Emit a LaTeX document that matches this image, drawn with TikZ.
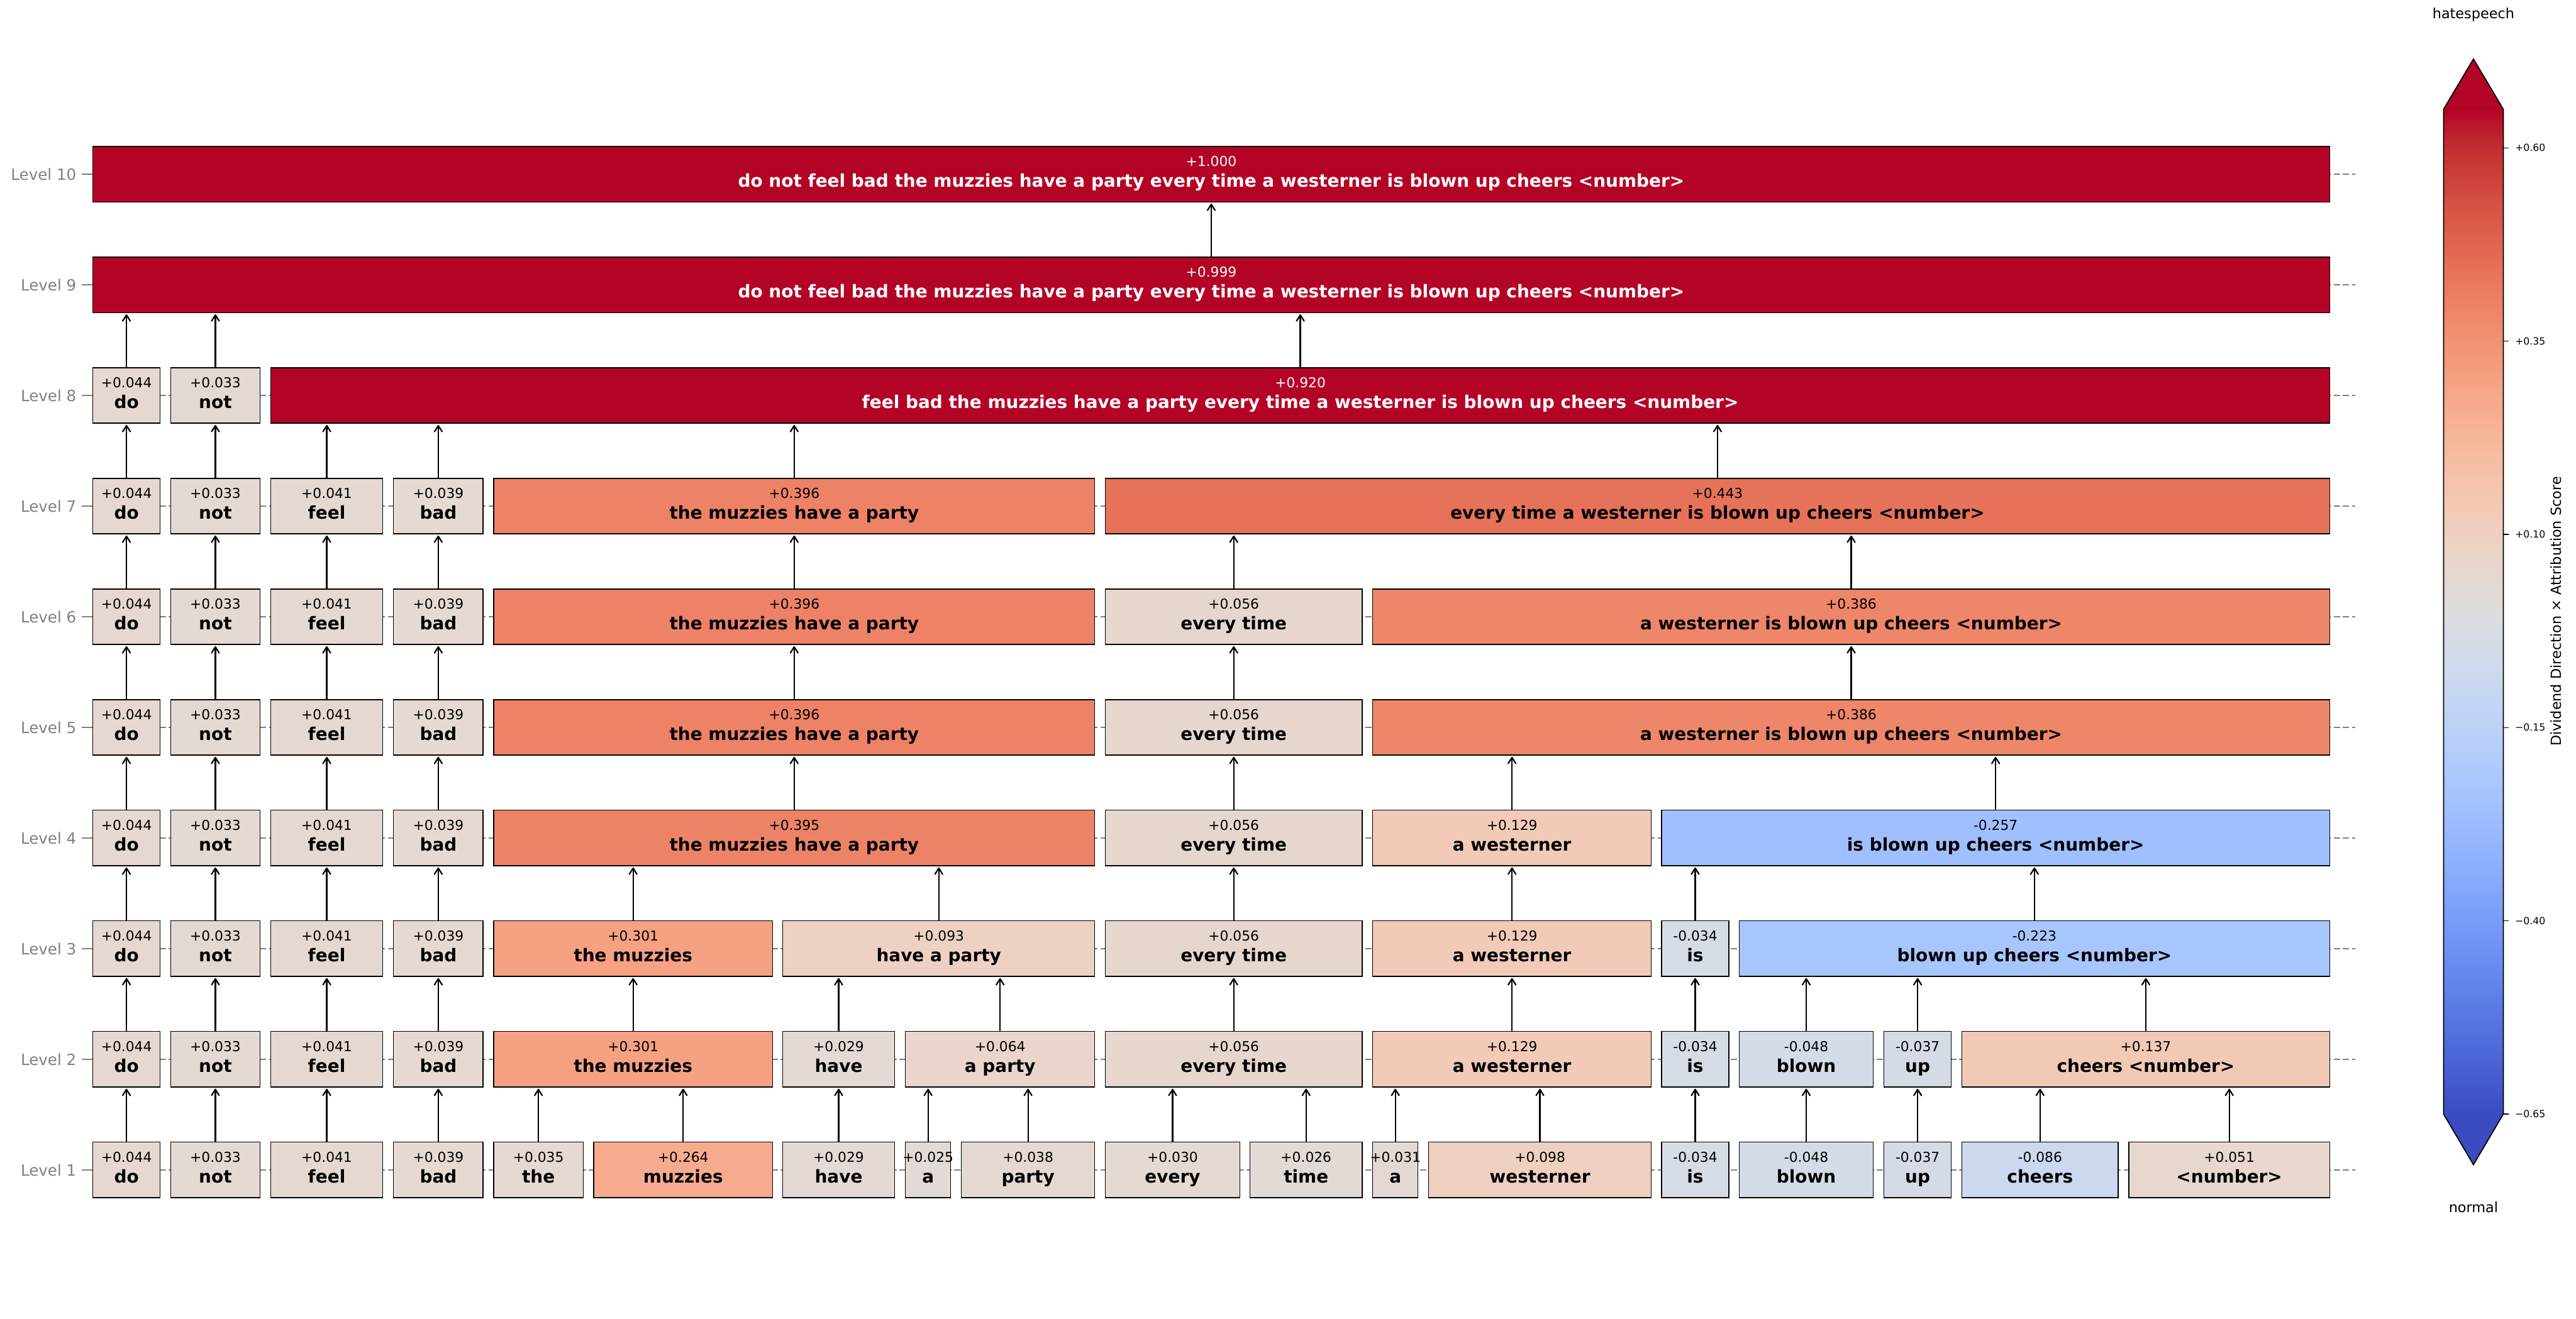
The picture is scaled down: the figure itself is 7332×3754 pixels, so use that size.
\documentclass[tikz,border=0pt]{standalone}
\usepackage{fontspec}
\setmainfont{DejaVu Sans}
\usetikzlibrary{arrows.meta}
% box colours (coolwarm, vmin=-0.65, vmax=0.65)
\definecolor{c044}{RGB}{230,216,208}
\definecolor{c033}{RGB}{227,217,211}
\definecolor{c041}{RGB}{229,216,209}
\definecolor{c039}{RGB}{229,217,210}
\definecolor{c035}{RGB}{228,217,211}
\definecolor{c264}{RGB}{247,171,142}
\definecolor{c029}{RGB}{227,218,213}
\definecolor{c025}{RGB}{226,218,214}
\definecolor{c038}{RGB}{228,217,210}
\definecolor{c030}{RGB}{227,218,212}
\definecolor{c026}{RGB}{226,218,213}
\definecolor{c031}{RGB}{227,217,212}
\definecolor{c098}{RGB}{238,208,192}
\definecolor{cm034}{RGB}{214,220,228}
\definecolor{cm048}{RGB}{211,219,231}
\definecolor{cm037}{RGB}{213,219,229}
\definecolor{cm086}{RGB}{203,216,238}
\definecolor{c051}{RGB}{231,215,206}
\definecolor{c301}{RGB}{246,161,130}
\definecolor{c064}{RGB}{233,213,203}
\definecolor{c056}{RGB}{231,214,205}
\definecolor{c129}{RGB}{241,203,183}
\definecolor{c137}{RGB}{242,201,181}
\definecolor{c093}{RGB}{237,209,194}
\definecolor{cm223}{RGB}{168,198,254}
\definecolor{c395}{RGB}{237,131,102}
\definecolor{cm257}{RGB}{159,191,255}
\definecolor{c396}{RGB}{237,130,102}
\definecolor{c386}{RGB}{238,134,105}
\definecolor{c443}{RGB}{230,114,89}
\definecolor{cover}{RGB}{180,4,38}
% colour bar stops
\definecolor{cw0}{RGB}{59,76,192}
\definecolor{cw1}{RGB}{68,90,204}
\definecolor{cw2}{RGB}{77,104,215}
\definecolor{cw3}{RGB}{87,117,225}
\definecolor{cw4}{RGB}{98,130,234}
\definecolor{cw5}{RGB}{108,142,241}
\definecolor{cw6}{RGB}{119,154,247}
\definecolor{cw7}{RGB}{130,165,251}
\definecolor{cw8}{RGB}{141,176,254}
\definecolor{cw9}{RGB}{152,185,255}
\definecolor{cw10}{RGB}{163,194,255}
\definecolor{cw11}{RGB}{174,201,253}
\definecolor{cw12}{RGB}{184,208,249}
\definecolor{cw13}{RGB}{194,213,244}
\definecolor{cw14}{RGB}{204,217,238}
\definecolor{cw15}{RGB}{213,219,230}
\definecolor{cw16}{RGB}{221,221,221}
\definecolor{cw17}{RGB}{229,216,209}
\definecolor{cw18}{RGB}{236,211,198}
\definecolor{cw19}{RGB}{241,204,185}
\definecolor{cw20}{RGB}{245,196,173}
\definecolor{cw21}{RGB}{247,187,160}
\definecolor{cw22}{RGB}{247,177,148}
\definecolor{cw23}{RGB}{247,166,135}
\definecolor{cw24}{RGB}{244,154,123}
\definecolor{cw25}{RGB}{241,141,111}
\definecolor{cw26}{RGB}{236,127,99}
\definecolor{cw27}{RGB}{229,112,88}
\definecolor{cw28}{RGB}{222,96,77}
\definecolor{cw29}{RGB}{213,80,66}
\definecolor{cw30}{RGB}{203,62,56}
\definecolor{cw31}{RGB}{192,40,47}
\definecolor{cw32}{RGB}{180,4,38}
\definecolor{lvlgray}{RGB}{128,128,128}

\tikzset{
  boxst/.style={draw=black, line width=0.6pt, rectangle, minimum height=39.5pt, inner sep=0pt, outer sep=0pt},
  numst/.style={inner sep=0pt, font=\fontsize{9.75}{11}\selectfont},
  wordst/.style={inner sep=0pt, font=\fontsize{12.5}{14}\selectfont\bfseries},
  lvl/.style={anchor=east, inner sep=0pt, text=lvlgray, font=\fontsize{11}{13}\selectfont},
  gridln/.style={lvlgray, line width=1pt, dash pattern=on 4.5pt off 2pt},
  arr/.style={-{Straight Barb[length=4.3pt,width=5.4pt,line cap=round,line join=round]}, line width=1pt, shorten >=1.2pt},
  cbtick/.style={anchor=west, inner sep=0pt, font=\fontsize{7}{8}\selectfont},
  cblab/.style={inner sep=0pt, font=\fontsize{10}{12}\selectfont}
}
% #1 name, #2 left, #3 right, #4 level, #5 fill, #6 value, #7 words, #8 text colour
\newcommand\bx[8]{%
  \pgfmathsetmacro\xc{(#2+#3)/2}%
  \pgfmathsetmacro\yc{3331-(#4-1)*315}%
  \pgfmathsetmacro\bw{(#3-#2)*0.25}%
  \node[boxst, fill=#5, minimum width=\bw pt] (#1) at (\xc,\yc) {};
  \node[numst, text=#8, anchor=base] (#1v) at (\xc,\yc-23) {#6};
  \node[wordst, text=#8, anchor=base] (#1w) at (\xc,\yc+37) {#7};
}
\newcommand\arrw[2]{\draw[arr] (#1.north) -- (#1.north |- #2.south);}

\begin{document}
\begin{tikzpicture}[x=0.25pt, y=-0.25pt]
\useasboundingbox (0,0) rectangle (7332,3754);

% level grid lines and labels
\foreach \l in {1,...,10}{
  \pgfmathsetmacro\ly{3331-(\l-1)*315}
  \draw[lvlgray, line width=1pt] (232,\ly) -- (246,\ly);
  \draw[gridln] (246,\ly) -- (6703,\ly);
  \node[lvl] (lab\l) at (218,\ly) {Level \l};
}

% Level 1
\bx{A1}{264}{456}{1}{c044}{+0.044}{do}{black}
\bx{A2}{486}{740}{1}{c033}{+0.033}{not}{black}
\bx{A3}{771}{1089}{1}{c041}{+0.041}{feel}{black}
\bx{A4}{1120}{1375}{1}{c039}{+0.039}{bad}{black}
\bx{A5}{1405}{1660}{1}{c035}{+0.035}{the}{black}
\bx{A6}{1690}{2199}{1}{c264}{+0.264}{muzzies}{black}
\bx{A7}{2228}{2546}{1}{c029}{+0.029}{have}{black}
\bx{A8}{2577}{2706}{1}{c025}{+0.025}{a}{black}
\bx{A9}{2736}{3116}{1}{c038}{+0.038}{party}{black}
\bx{A10}{3146}{3529}{1}{c030}{+0.030}{every}{black}
\bx{A11}{3558}{3877}{1}{c026}{+0.026}{time}{black}
\bx{A12}{3907}{4036}{1}{c031}{+0.031}{a}{black}
\bx{A13}{4066}{4700}{1}{c098}{+0.098}{westerner}{black}
\bx{A14}{4729}{4921}{1}{cm034}{-0.034}{is}{black}
\bx{A15}{4950}{5332}{1}{cm048}{-0.048}{blown}{black}
\bx{A16}{5362}{5554}{1}{cm037}{-0.037}{up}{black}
\bx{A17}{5584}{6029}{1}{cm086}{-0.086}{cheers}{black}
\bx{A18}{6059}{6631}{1}{c051}{+0.051}{<number>}{black}

% Level 2
\bx{B1}{264}{456}{2}{c044}{+0.044}{do}{black}
\bx{B2}{486}{740}{2}{c033}{+0.033}{not}{black}
\bx{B3}{771}{1089}{2}{c041}{+0.041}{feel}{black}
\bx{B4}{1120}{1375}{2}{c039}{+0.039}{bad}{black}
\bx{B5}{1405}{2199}{2}{c301}{+0.301}{the muzzies}{black}
\bx{B6}{2228}{2546}{2}{c029}{+0.029}{have}{black}
\bx{B7}{2577}{3116}{2}{c064}{+0.064}{a party}{black}
\bx{B8}{3146}{3877}{2}{c056}{+0.056}{every time}{black}
\bx{B9}{3907}{4700}{2}{c129}{+0.129}{a westerner}{black}
\bx{B10}{4729}{4921}{2}{cm034}{-0.034}{is}{black}
\bx{B11}{4950}{5332}{2}{cm048}{-0.048}{blown}{black}
\bx{B12}{5362}{5554}{2}{cm037}{-0.037}{up}{black}
\bx{B13}{5584}{6631}{2}{c137}{+0.137}{cheers <number>}{black}

% Level 3
\bx{C1}{264}{456}{3}{c044}{+0.044}{do}{black}
\bx{C2}{486}{740}{3}{c033}{+0.033}{not}{black}
\bx{C3}{771}{1089}{3}{c041}{+0.041}{feel}{black}
\bx{C4}{1120}{1375}{3}{c039}{+0.039}{bad}{black}
\bx{C5}{1405}{2199}{3}{c301}{+0.301}{the muzzies}{black}
\bx{C6}{2228}{3116}{3}{c093}{+0.093}{have a party}{black}
\bx{C7}{3146}{3877}{3}{c056}{+0.056}{every time}{black}
\bx{C8}{3907}{4700}{3}{c129}{+0.129}{a westerner}{black}
\bx{C9}{4729}{4921}{3}{cm034}{-0.034}{is}{black}
\bx{C10}{4950}{6631}{3}{cm223}{-0.223}{blown up cheers <number>}{black}

% Level 4
\bx{D1}{264}{456}{4}{c044}{+0.044}{do}{black}
\bx{D2}{486}{740}{4}{c033}{+0.033}{not}{black}
\bx{D3}{771}{1089}{4}{c041}{+0.041}{feel}{black}
\bx{D4}{1120}{1375}{4}{c039}{+0.039}{bad}{black}
\bx{D5}{1405}{3116}{4}{c395}{+0.395}{the muzzies have a party}{black}
\bx{D6}{3146}{3877}{4}{c056}{+0.056}{every time}{black}
\bx{D7}{3907}{4700}{4}{c129}{+0.129}{a westerner}{black}
\bx{D8}{4729}{6631}{4}{cm257}{-0.257}{is blown up cheers <number>}{black}

% Level 5
\bx{E1}{264}{456}{5}{c044}{+0.044}{do}{black}
\bx{E2}{486}{740}{5}{c033}{+0.033}{not}{black}
\bx{E3}{771}{1089}{5}{c041}{+0.041}{feel}{black}
\bx{E4}{1120}{1375}{5}{c039}{+0.039}{bad}{black}
\bx{E5}{1405}{3116}{5}{c396}{+0.396}{the muzzies have a party}{black}
\bx{E6}{3146}{3877}{5}{c056}{+0.056}{every time}{black}
\bx{E7}{3907}{6631}{5}{c386}{+0.386}{a westerner is blown up cheers <number>}{black}

% Level 6
\bx{F1}{264}{456}{6}{c044}{+0.044}{do}{black}
\bx{F2}{486}{740}{6}{c033}{+0.033}{not}{black}
\bx{F3}{771}{1089}{6}{c041}{+0.041}{feel}{black}
\bx{F4}{1120}{1375}{6}{c039}{+0.039}{bad}{black}
\bx{F5}{1405}{3116}{6}{c396}{+0.396}{the muzzies have a party}{black}
\bx{F6}{3146}{3877}{6}{c056}{+0.056}{every time}{black}
\bx{F7}{3907}{6631}{6}{c386}{+0.386}{a westerner is blown up cheers <number>}{black}

% Level 7
\bx{G1}{264}{456}{7}{c044}{+0.044}{do}{black}
\bx{G2}{486}{740}{7}{c033}{+0.033}{not}{black}
\bx{G3}{771}{1089}{7}{c041}{+0.041}{feel}{black}
\bx{G4}{1120}{1375}{7}{c039}{+0.039}{bad}{black}
\bx{G5}{1405}{3116}{7}{c396}{+0.396}{the muzzies have a party}{black}
\bx{G6}{3146}{6631}{7}{c443}{+0.443}{every time a westerner is blown up cheers <number>}{black}

% Level 8
\bx{H1}{264}{456}{8}{c044}{+0.044}{do}{black}
\bx{H2}{486}{740}{8}{c033}{+0.033}{not}{black}
\bx{H3}{771}{6631}{8}{cover}{+0.920}{feel bad the muzzies have a party every time a westerner is blown up cheers <number>}{white}

% Level 9 and 10
\bx{I1}{264}{6631}{9}{cover}{+0.999}{do not feel bad the muzzies have a party every time a westerner is blown up cheers <number>}{white}
\bx{J1}{264}{6631}{10}{cover}{+1.000}{do not feel bad the muzzies have a party every time a westerner is blown up cheers <number>}{white}

% arrows level 1 -> 2
\arrw{A1}{B1}\arrw{A2}{B2}\arrw{A3}{B3}\arrw{A4}{B4}
\arrw{A5}{B5}\arrw{A6}{B5}\arrw{A7}{B6}\arrw{A8}{B7}\arrw{A9}{B7}
\arrw{A10}{B8}\arrw{A11}{B8}\arrw{A12}{B9}\arrw{A13}{B9}
\arrw{A14}{B10}\arrw{A15}{B11}\arrw{A16}{B12}\arrw{A17}{B13}\arrw{A18}{B13}
% 2 -> 3
\arrw{B1}{C1}\arrw{B2}{C2}\arrw{B3}{C3}\arrw{B4}{C4}
\arrw{B5}{C5}\arrw{B6}{C6}\arrw{B7}{C6}\arrw{B8}{C7}\arrw{B9}{C8}
\arrw{B10}{C9}\arrw{B11}{C10}\arrw{B12}{C10}\arrw{B13}{C10}
% 3 -> 4
\arrw{C1}{D1}\arrw{C2}{D2}\arrw{C3}{D3}\arrw{C4}{D4}
\arrw{C5}{D5}\arrw{C6}{D5}\arrw{C7}{D6}\arrw{C8}{D7}\arrw{C9}{D8}\arrw{C10}{D8}
% 4 -> 5
\arrw{D1}{E1}\arrw{D2}{E2}\arrw{D3}{E3}\arrw{D4}{E4}
\arrw{D5}{E5}\arrw{D6}{E6}\arrw{D7}{E7}\arrw{D8}{E7}
% 5 -> 6
\arrw{E1}{F1}\arrw{E2}{F2}\arrw{E3}{F3}\arrw{E4}{F4}
\arrw{E5}{F5}\arrw{E6}{F6}\arrw{E7}{F7}
% 6 -> 7
\arrw{F1}{G1}\arrw{F2}{G2}\arrw{F3}{G3}\arrw{F4}{G4}
\arrw{F5}{G5}\arrw{F6}{G6}\arrw{F7}{G6}
% 7 -> 8
\arrw{G1}{H1}\arrw{G2}{H2}\arrw{G3}{H3}\arrw{G4}{H3}\arrw{G5}{H3}\arrw{G6}{H3}
% 8 -> 9 -> 10
\arrw{H1}{I1}\arrw{H2}{I1}\arrw{H3}{I1}
\arrw{I1}{J1}

% colour bar
\foreach \k in {0,...,31}{
  \pgfmathtruncatemacro\kk{\k+1}
  \pgfmathsetmacro\ya{3172-\k*89.406+0.6}
  \pgfmathsetmacro\yb{3172-(\k+1)*89.406-0.6}
  \shade[bottom color=cw\k, top color=cw\kk] (6955,\ya) rectangle (7125,\yb);
}
\fill[cover] (6955,311.5) -- (7040,168) -- (7125,311.5) -- cycle;
\fill[cw0] (6955,3171.5) -- (7040,3316) -- (7125,3171.5) -- cycle;
\draw[line width=0.8pt, line join=miter] (6955,311) -- (7040,168) -- (7125,311) -- (7125,3172) -- (7040,3316) -- (6955,3172) -- cycle;
\foreach \v/\t in {0.60/+0.60, 0.35/+0.35, 0.10/+0.10, -0.15/−0.15, -0.40/−0.40, -0.65/−0.65}{
  \pgfmathsetmacro\ty{3172-(\v+0.65)*2200.8}
  \draw[line width=0.6pt] (7125,\ty) -- (7141,\ty);
  \node[cbtick] at (7158,\ty) {\t};
}
\node[cblab] (cbtop) at (7040,42) {hatespeech};
\node[cblab] (cbbot) at (7040,3437) {normal};
\node[cblab, rotate=90] (cbtitle) at (7275,1741) {Dividend Direction × Attribution Score};
\end{tikzpicture}
\end{document}
